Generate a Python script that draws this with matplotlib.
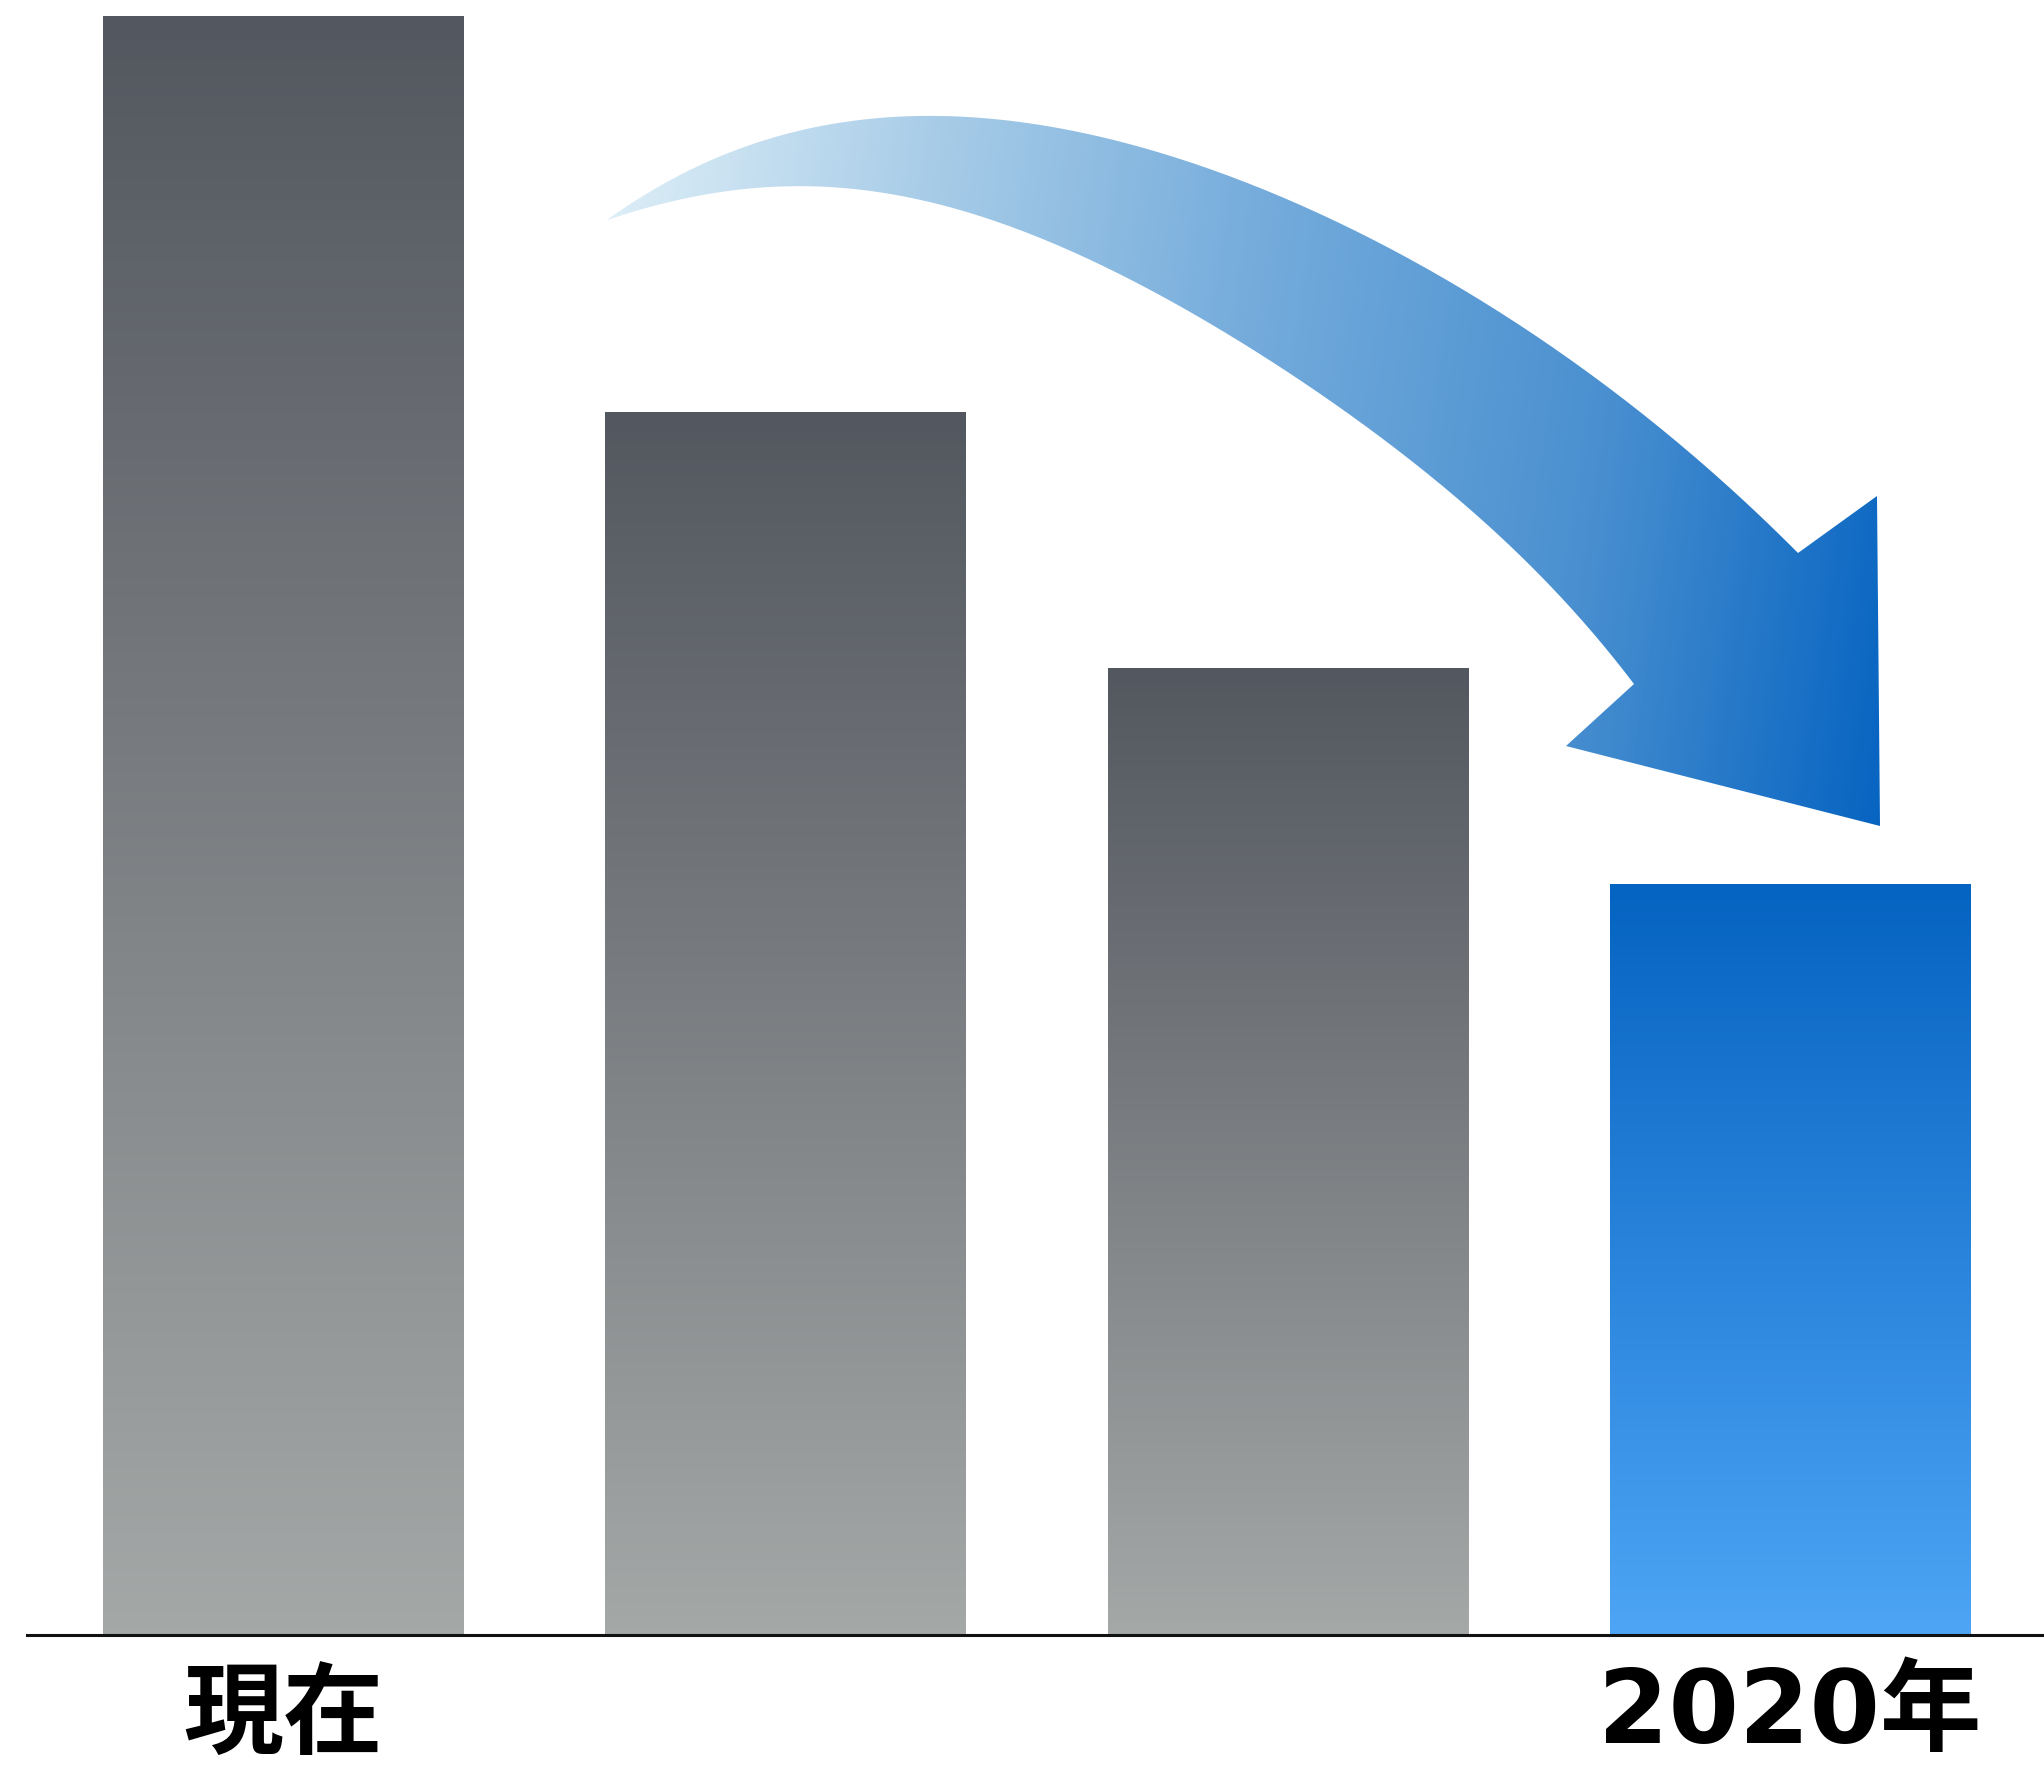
import numpy as np
import matplotlib
matplotlib.use("Agg")
import matplotlib.pyplot as plt
from matplotlib.colors import LinearSegmentedColormap
from matplotlib.path import Path
from matplotlib.patches import PathPatch

plt.rcParams['font.family'] = ['Noto Sans CJK JP', 'DejaVu Sans']

# data
categories = ['現在', '', '', '2020年']
values = [100, 75.5, 59.7, 46.4]
highlight = [False, False, False, True]

# colours
gray_top, gray_bottom = '#53575f', '#a4a8a7'
blue_top, blue_bottom = '#0563c1', '#4ea5f5'
arrow_stops = ['#e0f0f8', '#a6cbe7', '#72aadb', '#4a90d0', '#0563c1']

W, H = 2044, 1766
fig = plt.figure(figsize=(W / 100, H / 100), dpi=100)
fig.patch.set_facecolor('white')

# main bar axes, baseline at y=1635px
ax = fig.add_axes([27 / W, (H - 1635) / H, 1 - 27 / W, 1635 / H])
x = np.arange(len(categories))
bars = ax.bar(x, values, width=0.717, color='none', edgecolor='none')

grad = np.linspace(0, 1, 256).reshape(-1, 1)
for b, hl in zip(bars, highlight):
    x0, y0 = b.get_x(), b.get_y()
    w, h = b.get_width(), b.get_height()
    cmap = LinearSegmentedColormap.from_list(
        'g', [blue_bottom, blue_top] if hl else [gray_bottom, gray_top])
    im = ax.imshow(grad, cmap=cmap, aspect='auto', origin='lower',
                   extent=[x0, x0 + w, y0, y0 + h], zorder=2)
    im.set_clip_path(b)

ax.set_aspect('auto')
ax.set_xlim(-0.5097, 3.5057)
ax.set_ylim(0, 100.96)
for s in ['top', 'right', 'left']:
    ax.spines[s].set_visible(False)
ax.spines['bottom'].set_linewidth(2.2)
ax.spines['bottom'].set_color('#111111')
ax.spines['bottom'].set_zorder(3)
ax.set_yticks([])
ax.set_xticks(x)
ax.set_xticklabels(categories, fontsize=72, fontweight='bold')
ax.tick_params(axis='x', length=0, pad=22)
lab = ax.get_xticklabels()[3]
lab.set_fontfamily(['DejaVu Sans', 'Noto Sans CJK JP'])
lab.set_fontsize(73)


def smooth_edge(pts, n=200):
    pts = np.asarray(pts, float)
    wts = np.ones(len(pts))
    wts[0] = wts[-1] = 50
    p = np.polynomial.Polynomial.fit(pts[:, 0], pts[:, 1], 5, w=wts)
    xs = np.linspace(pts[0, 0], pts[-1, 0], n)
    return np.column_stack([xs, p(xs)])


# decorative arrow, drawn in pixel coordinates
outer = [(607, 220), (647, 193), (713, 157), (780, 135), (847, 123),
         (930, 118), (1013, 122), (1100, 136), (1200, 163), (1300, 203),
         (1400, 257), (1500, 313), (1567, 358), (1600, 381), (1683, 447),
         (1750, 503), (1798, 553)]
inner = [(607, 220), (680, 198), (780, 187), (880, 193), (980, 217),
         (1047, 240), (1100, 264), (1200, 317), (1300, 380), (1400, 453),
         (1450, 493), (1500, 537), (1517, 553), (1567, 600), (1583, 623),
         (1600, 640), (1634, 684)]
head = [(1877, 496), (1880, 826), (1566, 746)]

verts = np.vstack([smooth_edge(outer), np.array(head), smooth_edge(inner)[::-1]])
arrow_path = Path(verts, closed=False)

ov = fig.add_axes([0, 0, 1, 1], zorder=5)
ov.set_xlim(0, W)
ov.set_ylim(H, 0)
ov.axis('off')
ov.patch.set_alpha(0)

patch = PathPatch(arrow_path, facecolor='none', edgecolor='none')
ov.add_patch(patch)
xx, yy = np.meshgrid(np.linspace(600, 1890, 400), np.linspace(100, 840, 240))
t = (xx - 600) + 0.15 * (yy - 100)
t = t / t.max()
acmap = LinearSegmentedColormap.from_list('a', arrow_stops)
aim = ov.imshow(t, cmap=acmap, extent=[600, 1890, 840, 100], aspect='auto',
                origin='upper', interpolation='bilinear')
aim.set_clip_path(patch)

fig.savefig('out.png', dpi=100, facecolor='white')
